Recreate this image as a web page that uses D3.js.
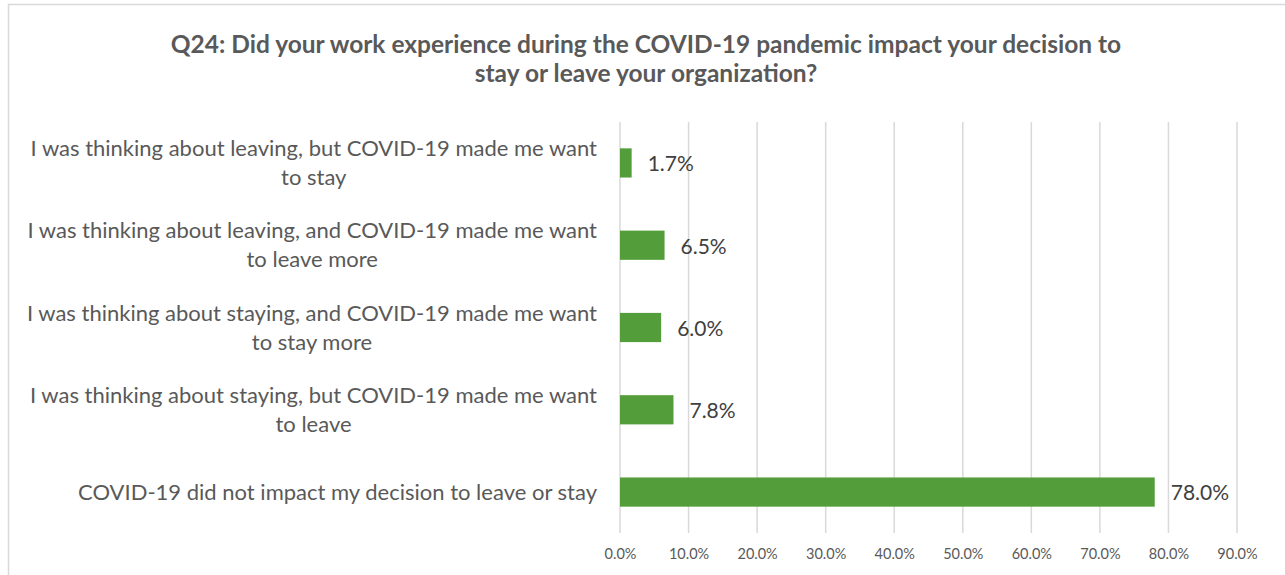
<!DOCTYPE html>
<html>
<head>
<meta charset="utf-8">
<script src="https://cdn.jsdelivr.net/npm/d3@7"></script>
<style>
  body { margin: 0; background: #fff; }
  svg { display: block; }
</style>
</head>
<body>
<svg></svg>
<script>
var width = 1285;
var height = 575;

var categories = [
  ['I was thinking about leaving, but COVID-19 made me want', 'to stay'],
  ['I was thinking about leaving, and COVID-19 made me want', 'to leave more'],
  ['I was thinking about staying, and COVID-19 made me want', 'to stay more'],
  ['I was thinking about staying, but COVID-19 made me want', 'to leave'],
  ['COVID-19 did not impact my decision to leave or stay']
];
var values = [1.7, 6.5, 6.0, 7.8, 78.0];
var ticks = [0, 10, 20, 30, 40, 50, 60, 70, 80, 90];
var titleLines = [
  'Q24: Did your work experience during the COVID-19 pandemic impact your decision to',
  'stay or leave your organization?'
];

var font = 'Lato, "Open Sans", sans-serif';
var margin = {top: 122, left: 620, right: 48, bottom: 42};
var labelRight = 597;

var svg = d3.select('svg')
  .attr('width', width)
  .attr('height', height);

// chart frame
svg.append('rect')
  .attr('x', 8.5)
  .attr('y', 4.5)
  .attr('width', width + 20)
  .attr('height', height + 20)
  .attr('fill', '#fff')
  .attr('stroke', '#d9d9d9')
  .attr('stroke-width', 1.5);

// title
svg.append('text')
  .attr('x', 646)
  .attr('y', 53)
  .attr('text-anchor', 'middle')
  .style('font-family', font)
  .style('font-weight', 'bold')
  .style('font-size', '24.5px')
  .attr('fill', '#595959')
  .selectAll('tspan')
  .data(titleLines)
  .enter()
  .append('tspan')
    .attr('x', 646)
    .attr('dy', (d, i) => i ? 29 : 0)
    .text(d => d);

var xScale = d3.scaleLinear()
  .domain([0, 90])
  .range([margin.left, margin.left + 617]);

var yScale = d3.scaleBand()
  .domain(d3.range(values.length))
  .range([margin.top, height - margin.bottom])
  .paddingInner(0.645)
  .paddingOuter(0.32);

// gridlines
svg.append('g')
  .selectAll('line')
  .data(ticks)
  .enter()
  .append('line')
    .attr('x1', d => xScale(d))
    .attr('x2', d => xScale(d))
    .attr('y1', margin.top)
    .attr('y2', height - margin.bottom)
    .attr('stroke', '#d9d9d9')
    .attr('stroke-width', 1.5);

// x axis labels
var xAxis = svg.append('g')
  .attr('transform', 'translate(0,' + (height - margin.bottom) + ')')
  .call(d3.axisBottom(xScale)
    .tickValues(ticks)
    .tickSize(0)
    .tickPadding(16)
    .tickFormat(d => d.toFixed(1) + '%'));
xAxis.select('.domain').remove();
xAxis.selectAll('text')
  .style('font-family', font)
  .style('font-size', '14.5px')
  .attr('fill', '#595959');

// bars
svg.append('g')
  .selectAll('rect')
  .data(values)
  .enter()
  .append('rect')
    .attr('x', xScale(0))
    .attr('y', (d, i) => yScale(i))
    .attr('width', d => xScale(d) - xScale(0))
    .attr('height', yScale.bandwidth())
    .attr('fill', '#539e3a');

// value labels
svg.append('g')
  .selectAll('text')
  .data(values)
  .enter()
  .append('text')
    .attr('x', d => xScale(d) + 16)
    .attr('y', (d, i) => yScale(i) + yScale.bandwidth() / 2)
    .attr('dy', '0.4em')
    .style('font-family', font)
    .style('font-size', '21px')
    .attr('fill', '#404040')
    .text(d => d.toFixed(1) + '%');

// category labels: block right-aligned, lines centred inside it
var cat = svg.append('g')
  .selectAll('text')
  .data(categories)
  .enter()
  .append('text')
    .attr('text-anchor', 'middle')
    .style('font-family', font)
    .style('font-size', '22px')
    .attr('fill', '#595959');

cat.each(function(lines, i) {
  var mid = yScale(i) + yScale.bandwidth() / 2;
  var spans = d3.select(this).selectAll('tspan')
    .data(lines)
    .enter()
    .append('tspan')
      .attr('y', (d, j) => mid + (j - (lines.length - 1) / 2) * 29)
      .attr('dy', '0.35em')
      .text(d => d);
  var w = d3.max(spans.nodes(), n => n.getComputedTextLength());
  spans.attr('x', labelRight - w / 2);
});
</script>
</body>
</html>
